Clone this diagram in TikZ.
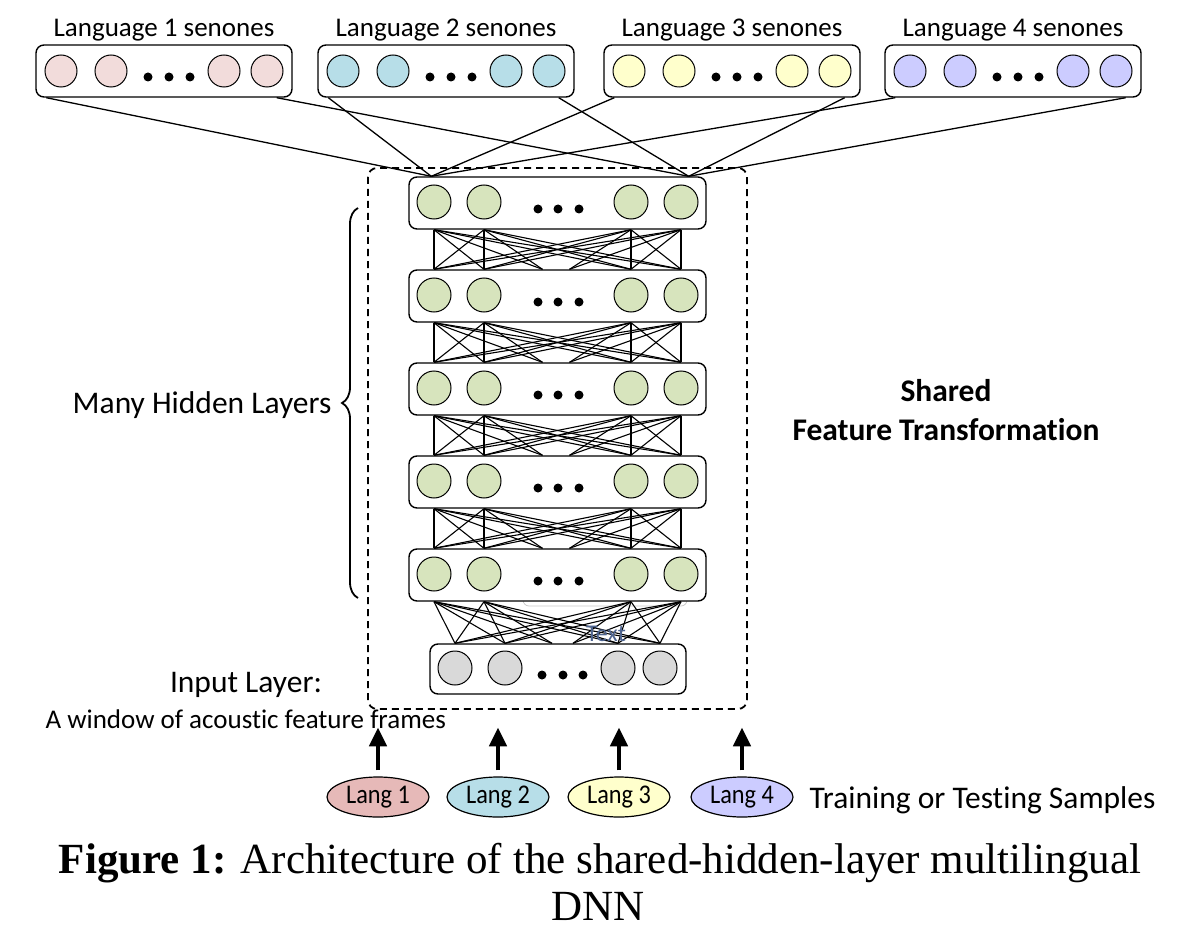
\documentclass[tikz,border=0pt]{standalone}
\usepackage{fontspec}
\setmainfont{Carlito}[Ligatures=NoCommon]
\newfontfamily\capfont{Liberation Serif}
\usetikzlibrary{decorations.pathreplacing,arrows.meta,shapes.geometric,calc}
\definecolor{cpink}{HTML}{F2DCDB}
\definecolor{cblue}{HTML}{B7DEE8}
\definecolor{cyel}{HTML}{FFFFCC}
\definecolor{cviol}{HTML}{CCCCFF}
\definecolor{cgreen}{HTML}{D7E4BD}
\definecolor{cgray}{HTML}{D9D9D9}
\definecolor{cpinkd}{HTML}{E6B9B8}
\definecolor{ctext}{HTML}{4F6590}
\newcommand{\nolig}{\kern0pt\relax}
\begin{document}
\begin{tikzpicture}[x=1pt,y=-1pt,
  layerbox/.style={draw,rounded corners=8pt,line width=1.4pt,fill=white,inner sep=0pt},
  neuron/.style={circle,draw,line width=1pt,minimum size=33pt,inner sep=0pt},
  bigdot/.style={circle,fill=black,minimum size=9pt,inner sep=0pt},
  link/.style={line width=1.1pt},
  toplink/.style={line width=1.3pt},
  lab/.style={font=\fontsize{27}{32}\selectfont,anchor=base},
  biglab/.style={font=\fontsize{31.5}{36}\selectfont},
  langell/.style={ellipse,draw,line width=1.2pt,minimum width=102pt,minimum height=40pt,inner sep=0pt,font=\fontsize{27}{30}\selectfont},
  uparrow/.style={line width=4.5pt,-{Triangle[length=19pt,width=17pt]}}]
\useasboundingbox (0,0) rectangle (1186,928);

% dashed frame
\draw[dashed,line width=1.8pt,dash pattern=on 7pt off 5pt,rounded corners=9pt] (368,168) rectangle (747,709);

% output (senone) layers
\foreach \k/\cx/\col/\nm in {1/164/cpink/1,2/446/cblue/2,3/732/cyel/3,4/1013/cviol/4} {
  \node[lab] (title\k) at (\cx,37) {Language \nm\ senones};
  \node[layerbox,minimum width=256pt,minimum height=52pt] (t\k) at (\cx,71) {};
  \foreach \j/\dx in {1/-103,2/-53,3/60,4/103}
    \node[neuron,fill=\col,minimum size=32pt] (t\k c\j) at (\cx+\dx,71) {};
  \foreach \j/\dx in {1/-16,2/5,3/26}
    \node[bigdot] (t\k d\j) at (\cx+\dx,77) {};
}

% faint leftover box
\draw[gray!45,line width=0.7pt,rounded corners=6pt] (523,575) rectangle (687,606);

% hidden layers
\foreach \i/\ty in {1/177,2/270,3/363,4/456,5/549} {
  \node[layerbox,minimum width=297pt,minimum height=52pt] (h\i) at (557.5,\ty+26) {};
  \foreach \j/\dx in {1/-123.5,2/-73.5,3/73.5,4/123.5}
    \node[neuron,fill=cgreen,minimum size=34pt] (h\i c\j) at (557.5+\dx,\ty+25) {};
  \foreach \j/\dx in {1/-19.5,2/0.5,3/21.5}
    \node[bigdot] (h\i d\j) at (557.5+\dx,\ty+32) {};
}

% input layer
\node[layerbox,minimum width=256pt,minimum height=50pt] (in) at (558,669) {};
\foreach \j/\dx in {1/-103,2/-53,3/60,4/102}
  \node[neuron,fill=cgray,minimum size=34pt] (inc\j) at (558+\dx,668) {};
\foreach \j/\dx in {1/-16,2/5,3/25}
  \node[bigdot] (ind\j) at (558+\dx,675) {};

% mesh between hidden layers
\foreach \a/\b in {1/2,2/3,3/4,4/5} {
  \foreach \p in {1,2,3,4} {
    \foreach \q in {1,2,3,4}
      \draw[link] (h\a.south -| h\a c\p) -- (h\b.north -| h\b c\q);
  }
  \foreach \p in {1,2}
    \draw[link] (h\a.south -| h\a c\p) -- ($(h\b.north)+(-15,0)$);
  \foreach \p in {3,4}
    \draw[link] (h\a.south -| h\a c\p) -- ($(h\b.north)+(12,0)$);
}

% mesh from input layer to first hidden layer
\foreach \p in {1,2,3,4} {
  \foreach \q in {1,2,3,4}
    \draw[link] (h5.south -| h5c\p) -- (in.north -| inc\q);
}
\foreach \p in {1,2}
  \draw[link] (h5.south -| h5c\p) -- ($(in.north)+(-6,0)$);
\foreach \p in {3,4}
  \draw[link] (h5.south -| h5c\p) -- ($(in.north)+(15,0)$);

\node[text=ctext,font=\fontsize{24}{26}\selectfont] (ghost) at (606,634) {Text};

% links from output layers to top hidden layer
\coordinate (hl) at ($(h1.north west)+(23,0)$);
\coordinate (hr) at ($(h1.north east)+(-18,0)$);
\foreach \k in {1,2,3,4} {
  \draw[toplink] ($(t\k.south west)+(11,0)$) -- (hl);
  \draw[toplink] ($(t\k.south east)+(-16,0)$) -- (hr);
}

% brace and labels
\coordinate (brb) at (358,598);
\coordinate (brt) at (358,208);
\draw[decorate,decoration={brace,amplitude=16pt},line width=1.8pt] (brb) -- (brt);
\node[biglab,anchor=base east] (mhl) at (335,413) {Many Hidden Layers};
\node[biglab,font=\fontsize{31.5}{36}\selectfont\bfseries,anchor=base] (sh1) at (946,401) {Shared};
\node[biglab,font=\fontsize{31.5}{36}\selectfont\bfseries,anchor=base] (sh2) at (946,440) {Feature Transformat\nolig ion};
\node[biglab,anchor=base] (il) at (246,692) {Input Layer:};
\node[lab,anchor=base west] (win) at (42,728) {A window of acoust\nolig ic feature frames};

% language samples
\node[langell,fill=cpinkd] (l1) at (378,797) {\scalebox{0.9}[1]{Lang 1}};
\node[langell,fill=cblue] (l2) at (498,797) {\scalebox{0.9}[1]{Lang 2}};
\node[langell,fill=cyel] (l3) at (619,797) {\scalebox{0.9}[1]{Lang 3}};
\node[langell,fill=cviol] (l4) at (742,797) {\scalebox{0.9}[1]{Lang 4}};
\node[biglab,anchor=base west] (tts) at (806,808) {Training or Test\nolig ing Samples};
\foreach \k in {1,2,3,4} {
  \coordinate (a\k) at ($(l\k.north)+(0,-49)$);
  \draw[uparrow] ([yshift=6pt]l\k.north) -- (a\k);
}

% caption
\node[anchor=base,font=\capfont\fontsize{43}{48}\selectfont] (cap1) at (600,873) {\textbf{Figure 1:} Architecture of the shared-hidden-layer multilingual};
\node[anchor=base,font=\capfont\fontsize{43}{48}\selectfont] (cap2) at (598,920) {DNN};
\end{tikzpicture}
\end{document}
